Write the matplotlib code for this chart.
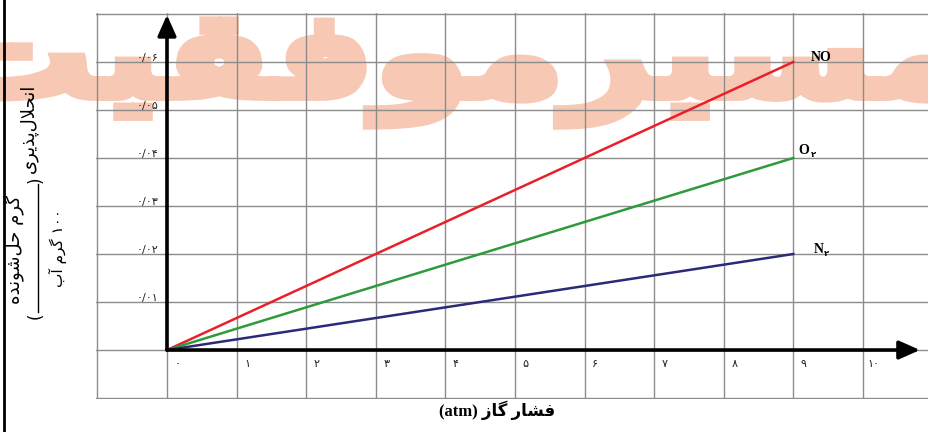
import numpy as np
import matplotlib.pyplot as plt
from matplotlib.lines import Line2D
from matplotlib.textpath import TextPath
from matplotlib.patches import PathPatch
from matplotlib.font_manager import FontProperties
from matplotlib.transforms import Affine2D

# data
pressure = [0, 9]
no_vals = [0, 0.06]
o2_vals = [0, 0.04]
n2_vals = [0, 0.02]

grid_x = list(range(-1, 11))
grid_y = [-0.01, 0, 0.01, 0.02, 0.03, 0.04, 0.05, 0.06, 0.07]
x_ticks = list(range(0, 11))
x_labels = ['۰', '۱', '۲', '۳', '۴', '۵', '۶', '۷', '۸', '۹', '۱۰']
y_ticks = [0.01, 0.02, 0.03, 0.04, 0.05, 0.06]
y_labels = ['۰/۰۱', '۰/۰۲', '۰/۰۳', '۰/۰۴', '۰/۰۵', '۰/۰۶']

# matplotlib has no arabic shaping, so pick presentation forms by hand
FORMS = {
    'ا': ('\uFE8D', '\uFE8E', None, None),
    'آ': ('\uFE81', '\uFE82', None, None),
    'ب': ('\uFE8F', '\uFE90', '\uFE91', '\uFE92'),
    'پ': ('\uFB56', '\uFB57', '\uFB58', '\uFB59'),
    'ت': ('\uFE95', '\uFE96', '\uFE97', '\uFE98'),
    'ح': ('\uFEA1', '\uFEA2', '\uFEA3', '\uFEA4'),
    'د': ('\uFEA9', '\uFEAA', None, None),
    'ذ': ('\uFEAB', '\uFEAC', None, None),
    'ر': ('\uFEAD', '\uFEAE', None, None),
    'ز': ('\uFEAF', '\uFEB0', None, None),
    'س': ('\uFEB1', '\uFEB2', '\uFEB3', '\uFEB4'),
    'ش': ('\uFEB5', '\uFEB6', '\uFEB7', '\uFEB8'),
    'ف': ('\uFED1', '\uFED2', '\uFED3', '\uFED4'),
    'ق': ('\uFED5', '\uFED6', '\uFED7', '\uFED8'),
    'گ': ('\uFB92', '\uFB93', '\uFB94', '\uFB95'),
    'ل': ('\uFEDD', '\uFEDE', '\uFEDF', '\uFEE0'),
    'م': ('\uFEE1', '\uFEE2', '\uFEE3', '\uFEE4'),
    'ن': ('\uFEE5', '\uFEE6', '\uFEE7', '\uFEE8'),
    'ه': ('\uFEE9', '\uFEEA', '\uFEEB', '\uFEEC'),
    'و': ('\uFEED', '\uFEEE', None, None),
    'ی': ('\uFBFC', '\uFBFD', '\uFBFE', '\uFBFF'),
    '\uFEFB': ('\uFEFB', '\uFEFC', None, None),
}


def shape(text):
    text = text.replace('لا', '\uFEFB')
    out = []
    for i, ch in enumerate(text):
        if ch not in FORMS:
            if ch != '\u200c':
                out.append(ch)
            continue
        prev = text[i - 1] if i > 0 else ''
        nxt = text[i + 1] if i + 1 < len(text) else ''
        f = FORMS[ch]
        jp = prev in FORMS and FORMS[prev][2] is not None
        jn = f[2] is not None and nxt in FORMS
        if jp and jn:
            out.append(f[3])
        elif jp:
            out.append(f[1])
        elif jn:
            out.append(f[2])
        else:
            out.append(f[0])
    return ''.join(reversed(out))


W, H = 929, 432
fig = plt.figure(figsize=(W / 100, H / 100), dpi=100)
ax = fig.add_axes([96 / W, 33 / H, 833 / W, 386 / H])
ax.set_xlim(-1.02, 10.95)
ax.set_ylim(-0.0102, 0.0702)
ax.set_xticks(grid_x)
ax.set_yticks(grid_y)
ax.set_axisbelow(True)
ax.grid(True, color='#8c8c8c', lw=1)
ax.tick_params(length=0, labelbottom=False, labelleft=False)
for s in ax.spines.values():
    s.set_visible(False)

# watermark, stretched over the whole width like in the picture
tp = TextPath((0, 0), shape('مسیرموفقیت'), size=100,
              prop=FontProperties(family='DejaVu Sans', weight='bold'))
ext = tp.get_extents()
sx = 1010 / ext.width / W
sy = 118 / 100 / H
wm_tr = Affine2D().translate(-ext.x0, 0).scale(sx, sy).translate(-50 / W, 1 - 96 / H)
ax.add_patch(PathPatch(tp, facecolor='#f7c8b3', edgecolor='#f7c8b3', lw=7,
                       transform=wm_tr + fig.transFigure, zorder=0.3, clip_on=False))

ax.plot(pressure, no_vals, color='#e8202a', lw=1.8, zorder=3)
ax.plot(pressure, o2_vals, color='#2e9a3c', lw=1.8, zorder=3)
ax.plot(pressure, n2_vals, color='#2b2a78', lw=1.8, zorder=3)

# axes arrows
arr = dict(arrowstyle='-|>,head_length=0.9,head_width=0.4', lw=2.6, color='black',
           mutation_scale=14, shrinkA=0, shrinkB=0)
ax.annotate('', xy=(0, 0.0698), xytext=(0, 0), arrowprops=arr, zorder=4)
ax.annotate('', xy=(10.82, 0), xytext=(0, 0), arrowprops=arr, zorder=4)

for y, lab in zip(y_ticks, y_labels):
    ax.text(-0.12, y + 0.0008, lab, ha='right', va='center', fontsize=8, color='#222222', zorder=4)
for x, lab in zip(x_ticks, x_labels):
    ax.text(x + 0.15, -0.003, lab, ha='center', va='center', fontsize=8, color='#222222')

sfont = ['Liberation Serif', 'DejaVu Sans']
ax.text(9.4, no_vals[-1] + 0.001, 'NO', family=sfont, fontweight='bold', fontsize=10,
        ha='center', va='center', zorder=4)
ax.text(9.08, o2_vals[-1] + 0.0015, 'O', family=sfont, fontweight='bold', fontsize=10,
        ha='left', va='center')
ax.annotate('۲', xy=(9.08, o2_vals[-1] + 0.0015), xytext=(8.5, -3), textcoords='offset points',
            fontsize=6, fontweight='bold', ha='left', va='center')
ax.text(9.3, n2_vals[-1] + 0.001, 'N', family=sfont, fontweight='bold', fontsize=10,
        ha='left', va='center')
ax.annotate('۲', xy=(9.3, n2_vals[-1] + 0.001), xytext=(7, -3), textcoords='offset points',
            fontsize=6, fontweight='bold', ha='left', va='center')

# x label
fig.text(497 / W, 1 - 410 / H, '(atm) ' + shape('فشار گاز'), family=sfont,
         fontweight='bold', fontsize=12, ha='center', va='center')

# y label with the fraction
fig.text(29 / W, 1 - 128 / H, shape('انحلال‌پذیری'), rotation=90, fontsize=13,
         ha='center', va='center')
fig.text(36 / W, 1 - 180 / H, ')', rotation=90, fontsize=12, ha='center', va='center')
fig.text(36 / W, 1 - 316 / H, '(', rotation=90, fontsize=12, ha='center', va='center')
fig.text(14 / W, 1 - 250 / H, shape('گرم حل‌شونده'), rotation=90, fontsize=13,
         ha='center', va='center')
fig.text(58 / W, 1 - 248 / H, shape('گرم آب') + ' ۱۰۰', rotation=90, fontsize=11,
         ha='center', va='center')
fig.add_artist(Line2D([38 / W, 38 / W], [1 - 184 / H, 1 - 312 / H], color='black', lw=1,
                      transform=fig.transFigure))

# frame line at the left edge
fig.add_artist(Line2D([4 / W, 4 / W], [0, 1], color='black', lw=2, transform=fig.transFigure))

plt.savefig('out.png', dpi=100)
plt.close()
